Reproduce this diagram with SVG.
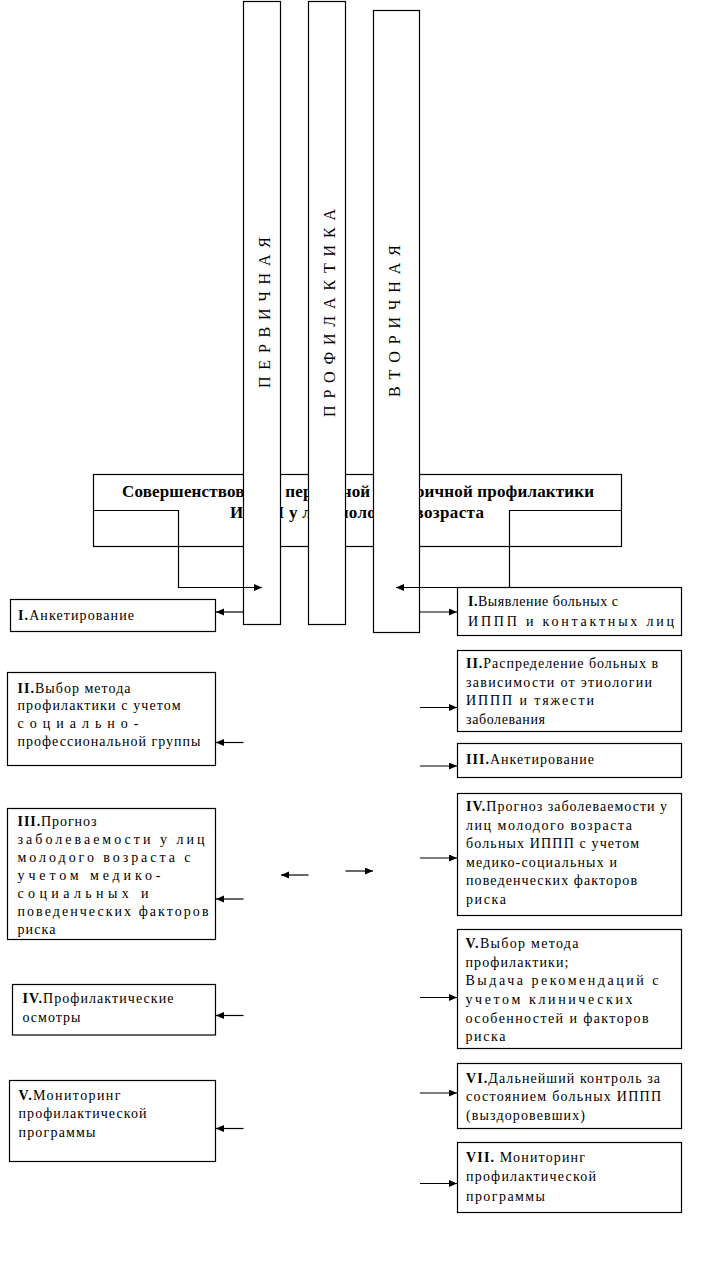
<svg xmlns="http://www.w3.org/2000/svg" width="703" height="1279" viewBox="0 0 703 1279">
<defs>
<style>
.box{fill:#fff;stroke:#000;stroke-width:1.2}
.t{font-family:"Liberation Serif","Times New Roman",serif;font-size:14px;fill:#000}
.n{font-weight:bold}
.ttl{font-family:"Liberation Serif","Times New Roman",serif;font-size:17px;font-weight:bold;fill:#000}
.vt{font-family:"Liberation Serif","Times New Roman",serif;font-size:16px;fill:#000}
.c{fill:none;stroke:#000;stroke-width:1.2;marker-end:url(#ah)}
</style>
<marker id="ah" markerUnits="userSpaceOnUse" markerWidth="9" markerHeight="8" refX="8" refY="3.5" orient="auto">
<path d="M0,0 L8,3.5 L0,7 Z" fill="#000"/>
</marker>
</defs>
<rect width="703" height="1279" fill="#fff"/>

<g id="title">
<rect class="box" x="93.5" y="474.5" width="528" height="72"/>
<text class="ttl" x="122" y="497" textLength="472" lengthAdjust="spacing">Совершенствование первичной и вторичной профилактики</text>
<text class="ttl" x="230" y="518" textLength="254" lengthAdjust="spacing">ИППП у лиц молодого возраста</text>
</g>

<g id="bar-primary">
<rect class="box" x="243.5" y="1.5" width="37" height="623"/>
<text class="vt" transform="translate(269.5,312.5) rotate(-90)" text-anchor="middle" textLength="151" lengthAdjust="spacing">П Е Р В И Ч Н А Я</text>
</g>
<g id="bar-prophylaxis">
<rect class="box" x="308.5" y="1.5" width="37" height="623"/>
<text class="vt" transform="translate(334.5,313) rotate(-90)" text-anchor="middle" textLength="208" lengthAdjust="spacing">П Р О Ф И Л А К Т И К А</text>
</g>
<g id="bar-secondary">
<rect class="box" x="373.5" y="10.5" width="46" height="622"/>
<text class="vt" transform="translate(399.5,321) rotate(-90)" text-anchor="middle" textLength="152" lengthAdjust="spacing">В Т О Р И Ч Н А Я</text>
</g>

<g id="L1">
<rect class="box" x="10.5" y="599.5" width="205" height="32"/>
<text class="t" x="18" y="620" textLength="116" lengthAdjust="spacing"><tspan class="n">I.</tspan>Анкетирование</text>
</g>
<g id="L2">
<rect class="box" x="7.5" y="672.5" width="208" height="93"/>
<text class="t" x="17.5" y="692.5" textLength="113" lengthAdjust="spacing"><tspan class="n">II.</tspan>Выбор метода</text>
<text class="t" x="17.5" y="710.3" textLength="163" lengthAdjust="spacing">профилактики с учетом</text>
<text class="t" x="17.5" y="728.1" textLength="121" lengthAdjust="spacing">социально-</text>
<text class="t" x="17.5" y="746" textLength="183" lengthAdjust="spacing">профессиональной группы</text>
</g>
<g id="L3">
<rect class="box" x="7.5" y="808.5" width="208" height="131"/>
<text class="t" x="17.5" y="826" textLength="79" lengthAdjust="spacing"><tspan class="n">III.</tspan>Прогноз</text>
<text class="t" x="17.5" y="844" textLength="187" lengthAdjust="spacing">заболеваемости у лиц</text>
<text class="t" x="17.5" y="862" textLength="173" lengthAdjust="spacing">молодого возраста с</text>
<text class="t" x="17.5" y="880" textLength="143" lengthAdjust="spacing">учетом медико-</text>
<text class="t" x="17.5" y="898" textLength="131" lengthAdjust="spacing">социальных и</text>
<text class="t" x="17.5" y="916" textLength="191" lengthAdjust="spacing">поведенческих факторов</text>
<text class="t" x="17.5" y="934" textLength="38" lengthAdjust="spacing">риска</text>
</g>
<g id="L4">
<rect class="box" x="12.5" y="984.5" width="203" height="50.5"/>
<text class="t" x="22.5" y="1003" textLength="151" lengthAdjust="spacing"><tspan class="n">IV.</tspan>Профилактические</text>
<text class="t" x="22.5" y="1021.5" textLength="58" lengthAdjust="spacing">осмотры</text>
</g>
<g id="L5">
<rect class="box" x="9.5" y="1080.5" width="206" height="81"/>
<text class="t" x="18.5" y="1100" textLength="102" lengthAdjust="spacing"><tspan class="n">V.</tspan>Мониторинг</text>
<text class="t" x="18.5" y="1118.3" textLength="128" lengthAdjust="spacing">профилактической</text>
<text class="t" x="18.5" y="1136.7" textLength="77" lengthAdjust="spacing">программы</text>
</g>

<g id="R1">
<rect class="box" x="457.5" y="587.5" width="224" height="48"/>
<text class="t" x="468" y="606" textLength="150" lengthAdjust="spacing"><tspan class="n">I.</tspan>Выявление больных с</text>
<text class="t" x="468" y="625.5" textLength="206" lengthAdjust="spacing">ИППП и контактных лиц</text>
</g>
<g id="R2">
<rect class="box" x="457.5" y="650.5" width="224" height="81"/>
<text class="t" x="466" y="668" textLength="192" lengthAdjust="spacing"><tspan class="n">II.</tspan>Распределение больных в</text>
<text class="t" x="466" y="686.5" textLength="186" lengthAdjust="spacing">зависимости от этиологии</text>
<text class="t" x="466" y="705" textLength="128" lengthAdjust="spacing">ИППП и тяжести</text>
<text class="t" x="466" y="723.5" textLength="79" lengthAdjust="spacing">заболевания</text>
</g>
<g id="R3">
<rect class="box" x="457.5" y="743.5" width="224" height="34"/>
<text class="t" x="466" y="763.5" textLength="128" lengthAdjust="spacing"><tspan class="n">III.</tspan>Анкетирование</text>
</g>
<g id="R4">
<rect class="box" x="457.5" y="793.5" width="224" height="122"/>
<text class="t" x="466" y="811" textLength="201" lengthAdjust="spacing"><tspan class="n">IV.</tspan>Прогноз заболеваемости у</text>
<text class="t" x="466" y="829.6" textLength="166" lengthAdjust="spacing">лиц молодого возраста</text>
<text class="t" x="466" y="848.2" textLength="173" lengthAdjust="spacing">больных ИППП с учетом</text>
<text class="t" x="466" y="866.8" textLength="151" lengthAdjust="spacing">медико-социальных и</text>
<text class="t" x="466" y="885.4" textLength="171" lengthAdjust="spacing">поведенческих факторов</text>
<text class="t" x="466" y="904" textLength="40" lengthAdjust="spacing">риска</text>
</g>
<g id="R5">
<rect class="box" x="457.5" y="929.5" width="224" height="119"/>
<text class="t" x="465.5" y="948" textLength="113" lengthAdjust="spacing"><tspan class="n">V.</tspan>Выбор метода</text>
<text class="t" x="465.5" y="966.6" textLength="103" lengthAdjust="spacing">профилактики;</text>
<text class="t" x="465.5" y="985.3" textLength="193" lengthAdjust="spacing">Выдача рекомендаций с</text>
<text class="t" x="465.5" y="1004" textLength="167" lengthAdjust="spacing">учетом клинических</text>
<text class="t" x="465.5" y="1022.6" textLength="183" lengthAdjust="spacing">особенностей и факторов</text>
<text class="t" x="465.5" y="1041" textLength="40" lengthAdjust="spacing">риска</text>
</g>
<g id="R6">
<rect class="box" x="457.5" y="1063.5" width="224" height="65"/>
<text class="t" x="466" y="1083" textLength="194" lengthAdjust="spacing"><tspan class="n">VI.</tspan>Дальнейший контроль за</text>
<text class="t" x="466" y="1101.3" textLength="195" lengthAdjust="spacing">состоянием больных ИППП</text>
<text class="t" x="466" y="1119.5" textLength="119" lengthAdjust="spacing">(выздоровевших)</text>
</g>
<g id="R7">
<rect class="box" x="457.5" y="1142.5" width="224" height="70"/>
<text class="t" x="466" y="1162" textLength="119" lengthAdjust="spacing"><tspan class="n">VII.</tspan> Мониторинг</text>
<text class="t" x="466" y="1181" textLength="130" lengthAdjust="spacing">профилактической</text>
<text class="t" x="466" y="1200.5" textLength="79" lengthAdjust="spacing">программы</text>
</g>

<g id="connectors">
<polyline class="c" points="93.5,510.5 178.5,510.5 178.5,587.5 262,587.5"/>
<polyline class="c" points="621.5,510.5 509.5,510.5 509.5,587.5 396,587.5"/>
<line class="c" x1="243.5" y1="612" x2="216" y2="612"/>
<line class="c" x1="419.5" y1="612" x2="457" y2="612"/>
<line class="c" x1="243.5" y1="742.5" x2="216" y2="742.5"/>
<line class="c" x1="243.5" y1="899" x2="216" y2="899"/>
<line class="c" x1="243.5" y1="1015.5" x2="216" y2="1015.5"/>
<line class="c" x1="243.5" y1="1128.5" x2="216" y2="1128.5"/>
<line class="c" x1="308.5" y1="875" x2="281" y2="875"/>
<line class="c" x1="345.5" y1="871" x2="373" y2="871"/>
<line class="c" x1="420" y1="707.5" x2="457" y2="707.5"/>
<line class="c" x1="420" y1="766" x2="457" y2="766"/>
<line class="c" x1="420" y1="858" x2="457" y2="858"/>
<line class="c" x1="420" y1="997.5" x2="457" y2="997.5"/>
<line class="c" x1="420" y1="1093" x2="457" y2="1093"/>
<line class="c" x1="420" y1="1183.5" x2="457" y2="1183.5"/>
</g>
</svg>
